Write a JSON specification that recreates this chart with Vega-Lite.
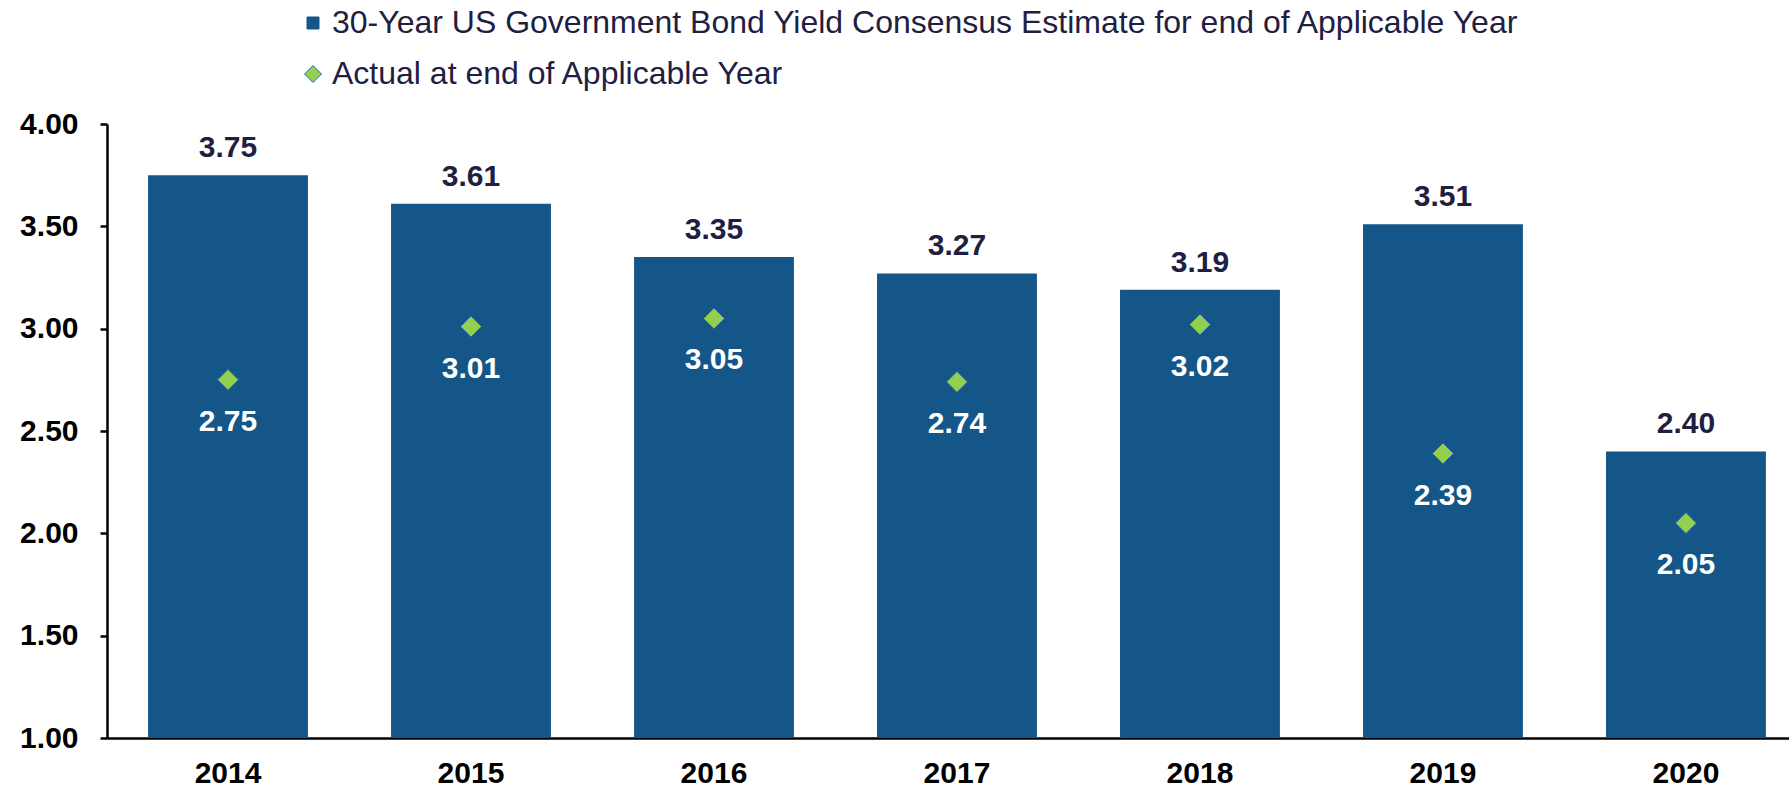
{
  "$schema": "https://vega.github.io/schema/vega-lite/v6.json",
  "width": 1682,
  "height": 614,
  "autosize": "none",
  "padding": {"left": 107, "top": 124, "right": 0, "bottom": 51},
  "background": "white",
  "data": {
    "values": [
      {"year": "2014", "estimate": 3.75, "actual": 2.75},
      {"year": "2015", "estimate": 3.61, "actual": 3.01},
      {"year": "2016", "estimate": 3.35, "actual": 3.05},
      {"year": "2017", "estimate": 3.27, "actual": 2.74},
      {"year": "2018", "estimate": 3.19, "actual": 3.02},
      {"year": "2019", "estimate": 3.51, "actual": 2.39},
      {"year": "2020", "estimate": 2.40, "actual": 2.05}
    ]
  },
  "encoding": {
    "x": {
      "field": "year",
      "type": "nominal",
      "scale": {"paddingInner": 0.342, "paddingOuter": 0.132, "align": 0.64},
      "axis": {
        "title": null,
        "labelAngle": 0,
        "ticks": false,
        "labelPadding": 20,
        "labelFont": "Liberation Sans",
        "labelFontWeight": "bold",
        "labelFontSize": 30,
        "labelColor": "#000000",
        "domainColor": "#000000",
        "domainWidth": 2.5
      }
    }
  },
  "layer": [
    {
      "mark": {"type": "bar", "color": "#145688"},
      "encoding": {
        "y": {
          "field": "estimate",
          "type": "quantitative",
          "scale": {"domain": [1, 4], "zero": false, "nice": false},
          "axis": {
            "title": null,
            "values": [1, 1.5, 2, 2.5, 3, 3.5, 4],
            "format": ".2f",
            "grid": false,
            "labelFont": "Liberation Sans",
            "labelFontWeight": "bold",
            "labelFontSize": 30,
            "labelColor": "#000000",
            "labelPadding": 22,
            "tickSize": 7,
            "tickColor": "#000000",
            "tickWidth": 2.5,
            "domainColor": "#000000",
            "domainWidth": 2.5
          }
        },
        "y2": {"datum": 1},
        "color": {
          "datum": "30-Year US Government Bond Yield Consensus Estimate for end of Applicable Year",
          "type": "nominal",
          "scale": {
            "domain": [
              "30-Year US Government Bond Yield Consensus Estimate for end of Applicable Year",
              "Actual at end of Applicable Year"
            ],
            "range": ["#145688", "#92d050"]
          },
          "legend": {
            "title": null,
            "orient": "none",
            "legendX": 190,
            "legendY": -117,
            "direction": "vertical",
            "labelFont": "Liberation Sans",
            "labelFontSize": 32,
            "labelColor": "#1f2041",
            "labelLimit": 2000,
            "labelOffset": 3,
            "rowPadding": 19,
            "symbolSize": 289,
            "encode": {
              "symbols": {
                "update": {
                  "shape": {"signal": "datum.value == 'Actual at end of Applicable Year' ? 'diamond' : 'square'"},
                  "size": {"signal": "datum.value == 'Actual at end of Applicable Year' ? 289 : 144"},
                  "stroke": {"signal": "datum.value == 'Actual at end of Applicable Year' ? '#2f5fb0' : '#145688'"},
                  "strokeWidth": {"value": 1},
                  "opacity": {"value": 1},
                  "fillOpacity": {"value": 1}
                }
              }
            }
          }
        }
      }
    },
    {
      "mark": {"type": "point", "shape": "diamond", "filled": true, "size": 441, "opacity": 1, "stroke": "#2f5fb0", "strokeWidth": 1},
      "encoding": {
        "y": {"field": "actual", "type": "quantitative"},
        "color": {"datum": "Actual at end of Applicable Year", "type": "nominal"}
      }
    },
    {
      "mark": {"type": "text", "font": "Liberation Sans", "fontWeight": "bold", "fontSize": 30, "color": "#1f2041", "baseline": "alphabetic", "dy": -18},
      "encoding": {
        "y": {"field": "estimate", "type": "quantitative"},
        "text": {"field": "estimate", "type": "quantitative", "format": ".2f"}
      }
    },
    {
      "mark": {"type": "text", "font": "Liberation Sans", "fontWeight": "bold", "fontSize": 30, "color": "#ffffff", "baseline": "alphabetic", "dy": 51},
      "encoding": {
        "y": {"field": "actual", "type": "quantitative"},
        "text": {"field": "actual", "type": "quantitative", "format": ".2f"}
      }
    }
  ],
  "config": {
    "view": {"stroke": null}
  }
}
